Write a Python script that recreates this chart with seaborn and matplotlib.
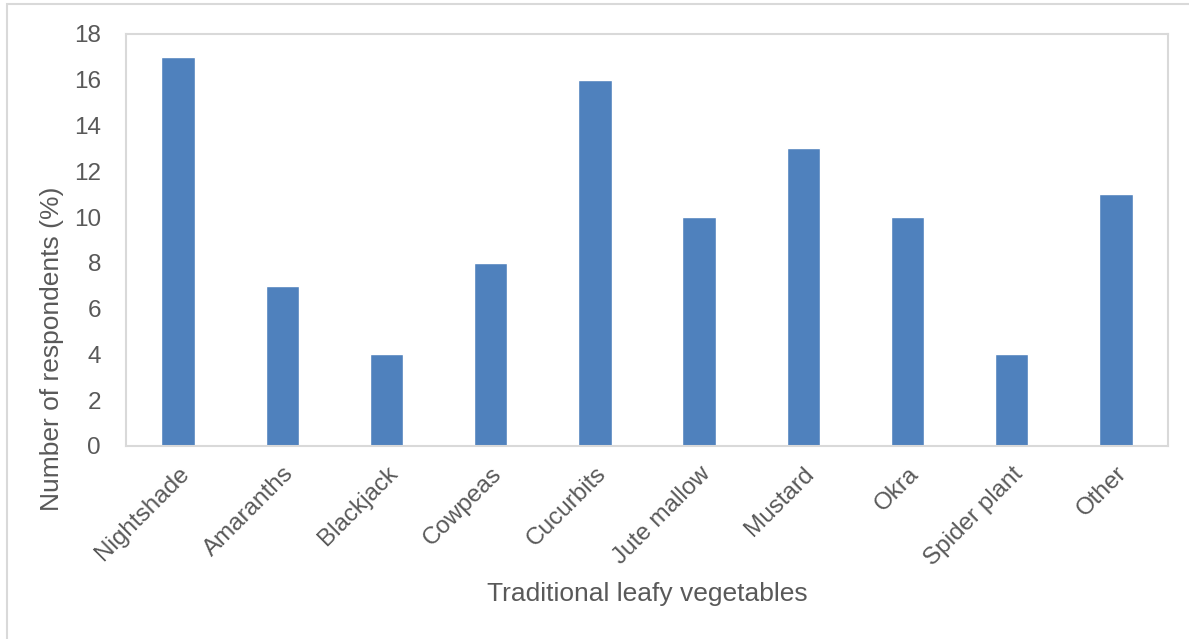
import matplotlib
matplotlib.use("Agg")
import matplotlib.pyplot as plt
import seaborn as sns
import pandas as pd
from matplotlib.patches import Rectangle

categories = ["Nightshade", "Amaranths", "Blackjack", "Cowpeas", "Cucurbits",
              "Jute mallow", "Mustard", "Okra", "Spider plant", "Other"]
values = [17, 7, 4, 8, 16, 10, 13, 10, 4, 11]
y_ticks = [0, 2, 4, 6, 8, 10, 12, 14, 16, 18]

sns.set_theme(style="white")
plt.rcParams["font.family"] = ["Liberation Sans", "DejaVu Sans"]

df = pd.DataFrame({"veg": categories, "pct": values})

W, H = 1189, 639
fig = plt.figure(figsize=(W / 100, H / 100), dpi=100)
ax = fig.add_axes([126 / W, 1 - 446 / H, (1168 - 126) / W, (446 - 34) / H])

sns.barplot(data=df, x="veg", y="pct", color="#4F81BD", saturation=1,
            width=0.32, ax=ax)

ax.set_ylim(0, 18)
ax.set_yticks(y_ticks)
ax.set_xlim(-0.5, len(categories) - 0.5)
text_col = "#595959"
ax.tick_params(axis="y", labelsize=17.5, colors=text_col, length=0, pad=18)
ax.tick_params(axis="x", labelsize=17.5, colors=text_col, length=0, pad=12)
for lbl in ax.get_xticklabels():
    lbl.set_rotation(45)
    lbl.set_ha("right")
    lbl.set_rotation_mode("anchor")

for s in ax.spines.values():
    s.set_visible(True)
    s.set_color("#D9D9D9")
    s.set_linewidth(1.5)

ax.set_xlabel("Traditional leafy vegetables", fontsize=19, color=text_col)
ax.set_ylabel("Number of respondents (%)", fontsize=19, color=text_col)
ax.xaxis.set_label_coords(0.5, -(594 - 446) / (446 - 34), transform=ax.transAxes)
# the y title sits centred over the plot plus the category label band
ax.yaxis.set_label_coords(-(126 - 52) / (1168 - 126), (446 - 349) / (446 - 34),
                          transform=ax.transAxes)
ax.xaxis.label.set_va("center")
ax.yaxis.label.set_va("center")

# light outer chart frame
fig.patches.append(Rectangle((7 / W, -0.1), 1.2, 1 - 4 / H + 0.1,
                             transform=fig.transFigure, fill=False,
                             edgecolor="#D9D9D9", linewidth=1.5))

fig.savefig("out.png", dpi=100)
